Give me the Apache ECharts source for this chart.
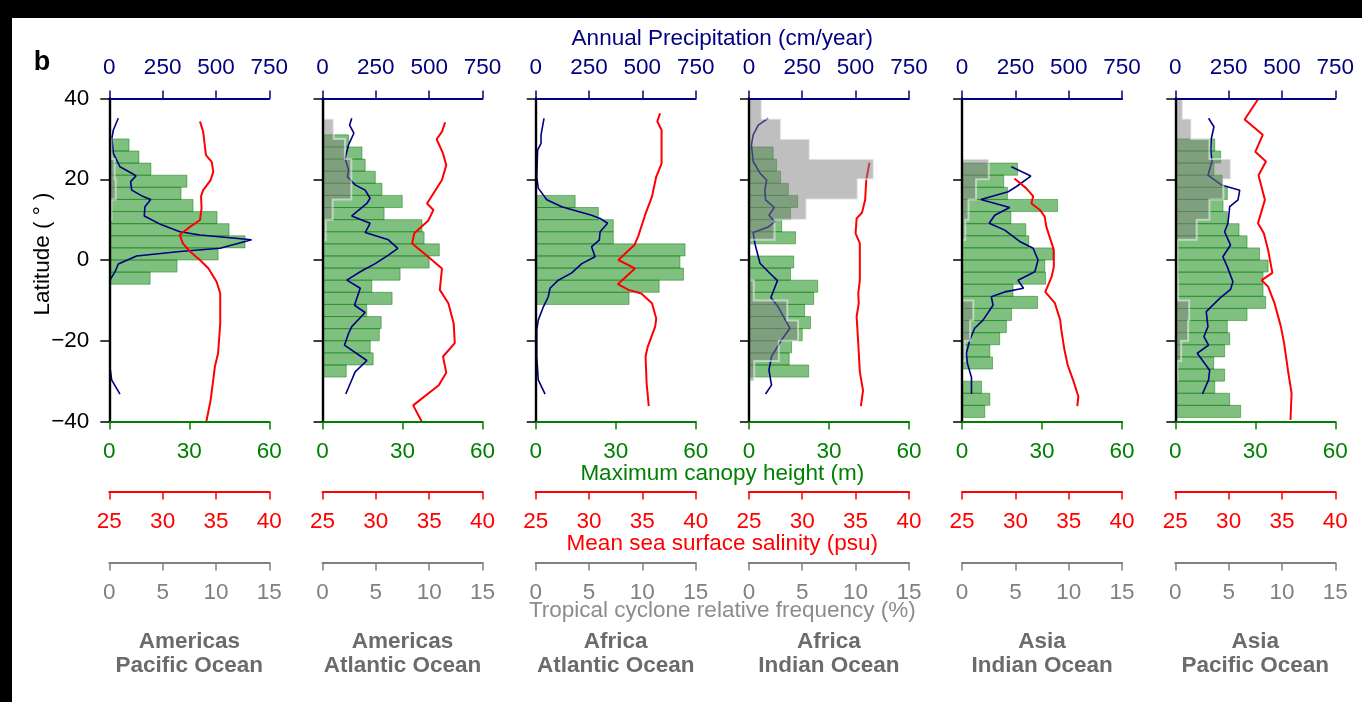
<!DOCTYPE html>
<html><head><meta charset="utf-8">
<script src="https://cdn.jsdelivr.net/npm/echarts@6/dist/echarts.min.js"></script>
<style>html,body{margin:0;padding:0;background:#fff}#c{width:1362px;height:702px}</style>
</head><body><div id="c"></div><script>
const FONT = "'Liberation Sans', Arial, sans-serif";
const FS = 22.5;

// ---- labels ----
const regionNames = [
  ['Americas', 'Pacific Ocean'], ['Americas', 'Atlantic Ocean'], ['Africa', 'Atlantic Ocean'],
  ['Africa', 'Indian Ocean'], ['Asia', 'Indian Ocean'], ['Asia', 'Pacific Ocean']
];
const yTicks = [-40, -20, 0, 20, 40];
const canopyBinWidth = 3;   // degrees
const cycloneBinWidth = 5;  // degrees

// ---- Maximum canopy height (m), 3° latitude bins (bin centres) ----
const canopyLat1 = [28.5, 25.5, 22.5, 19.5, 16.5, 13.5, 10.5, 7.5, 4.5, 1.5, -1.5, -4.5];
const canopy1 = [7.4, 11.1, 15.6, 29.1, 26.9, 31.4, 40.4, 44.9, 50.9, 40.8, 25.4, 15.3];
const canopyLat2 = [29.5, 26.5, 23.5, 20.5, 17.5, 14.5, 11.5, 8.5, 5.5, 2.5, -0.5, -3.5, -6.5, -9.5, -12.5, -15.5, -18.5, -21.5, -24.5, -27.5];
const canopy2 = [9.8, 14.8, 16, 19.8, 22.3, 29.9, 23.1, 37.3, 38.1, 43.8, 40, 29.1, 18.5, 26.1, 16.6, 22, 21.3, 17.9, 19, 8.9];
const canopyLat3 = [14.5, 11.5, 8.5, 5.5, 2.5, -0.5, -3.5, -6.5, -9.5];
const canopy3 = [14.8, 23.5, 29.1, 29.1, 56, 54.1, 55.4, 46.3, 35];
const canopyLat4 = [26.5, 23.5, 20.5, 17.5, 14.5, 11.5, 8.5, 5.5, 2.5, -0.5, -3.5, -6.5, -9.5, -12.5, -15.5, -18.5, -21.5, -24.5, -27.5];
const canopy4 = [9.1, 10.4, 11.9, 14.8, 18.3, 15.6, 12.3, 17.5, 0, 16.8, 15.6, 25.8, 24.3, 20.9, 23.1, 20, 16, 15.1, 22.4];
const canopyLat5 = [22.5, 19.5, 16.5, 13.5, 10.5, 7.5, 4.5, 1.5, -1.5, -4.5, -7.5, -10.5, -13.5, -16.5, -19.5, -22.5, -25.5, -28.5, -31.5, -34.5, -37.5];
const canopy5 = [20.8, 15.6, 17, 35.8, 18.3, 23.9, 25, 34.1, 31, 31.3, 19.1, 28.3, 18.5, 16.6, 14.1, 10.4, 11.4, 0, 7.3, 10.4, 8.5];
const canopyLat6 = [28.5, 25.5, 22.5, 19.5, 16.5, 13.5, 10.5, 7.5, 4.5, 1.5, -1.5, -4.5, -7.5, -10.5, -13.5, -16.5, -19.5, -22.5, -25.5, -28.5, -31.5, -34.5, -37.5];
const canopy6 = [14.8, 17, 14.5, 17.6, 19.5, 17.9, 19.5, 23.9, 26.9, 31.6, 34.8, 32.9, 32.9, 33.9, 26.9, 19.5, 20.4, 18.5, 14.4, 18.5, 14.8, 20.4, 24.5];

// ---- Tropical cyclone relative frequency (%), 5° latitude bins (bin centres) ----
const cycloneLat1 = [27.5, 22.5, 17.5, 12.5];
const cyclone1 = [0.2, 0.5, 0.6, 0.2];
const cycloneLat2 = [37.5, 32.5, 27.5, 22.5, 17.5, 12.5, 7.5];
const cyclone2 = [0.2, 1.05, 2.1, 2.7, 2.7, 0.95, 0.3];
const cycloneLat3 = [];
const cyclone3 = [];
const cycloneLat4 = [37.5, 32.5, 27.5, 22.5, 17.5, 12.5, 7.5, 2.5, -2.5, -7.5, -12.5, -17.5, -22.5, -27.5];
const cyclone4 = [1.2, 3.0, 5.7, 11.7, 10.2, 5.4, 2.4, 0, 0, 0.45, 3.6, 4.6, 2.8, 0.5];
const cycloneLat5 = [22.5, 17.5, 12.5, 7.5, 2.5, -2.5, -7.5, -12.5, -17.5, -22.5];
const cyclone5 = [2.5, 1.3, 0.6, 0.3, 0, 0, 0, 1.05, 0.75, 0.25];
const cycloneLat6 = [37.5, 32.5, 27.5, 22.5, 17.5, 12.5, 7.5, 2.5, -2.5, -7.5, -12.5, -17.5, -22.5, -27.5];
const cyclone6 = [0.7, 1.5, 3.2, 5.2, 4.5, 3.2, 2.0, 0.2, 0.2, 0.25, 1.3, 1.2, 0.55, 0.2];

// ---- Annual precipitation (cm/year) : [value, latitude]; null = gap ----
const precip1 = [[42,35.1],[19,32.2],[12,30.1],[19,26.4],[50,23.1],[105,21.5],[125,20.8],[100,19.4],[105,17.3],[159,15.7],[194,15.0],[167,13.2],[164,10.9],[245,8.7],[331,7.0],[425,6.2],[667,5.0],[519,2.9],[331,2.1],[128,1.0],[42,-1.0],[27,-2.9],[3,-5.0],null,[3,-26.4],[11,-29.7],[50,-33.2]];
const precip2 = [[137,35.1],[127,33.4],[147,31.4],[122,28.5],[106,25.2],[122,22.3],[117,20.6],[153,18.6],[200,17.3],[223,15.3],[208,14.0],[137,10.9],[223,9.1],[200,6.8],[309,5.0],[353,2.9],[309,1.2],[247,-0.9],[177,-2.9],[114,-5.0],[177,-7.0],[166,-8.7],[150,-11.2],[200,-13.0],[137,-16.5],[122,-18.2],[103,-21.1],[208,-24.9],[153,-27.7],[134,-30.1],[109,-33.2]];
const precip3 = [[39,35.1],[25,31.0],[25,28.9],[9,27.2],[5,20.6],[12,17.8],[52,14.9],[122,13.2],[200,12.0],[262,11.1],[302,10.3],[337,9.1],[302,7.0],[298,4.9],[262,3.3],[278,0.8],[216,-0.9],[169,-3.2],[106,-5.0],[67,-7.0],[59,-9.1],[36,-11.6],[12,-14.9],[5,-17.3],[5,-23.9],[12,-29.7],[44,-33.2]];
const precip4 = [[91,35.1],[44,33.4],[20,31.0],[12,28.5],[20,24.4],[52,21.5],[83,19.8],[75,17.3],[78,14.9],[119,13.0],[94,11.1],[122,9.5],[91,8.2],[20,6.8],[28,4.1],[52,-0.8],[91,-2.9],[134,-5.1],[103,-9.3],[137,-11.6],[192,-16.9],[153,-19.8],[106,-23.9],[94,-27.3],[106,-31.0],[78,-33.2]];
const precip5 = [[231,23.1],[322,20.8],[255,18.2],[216,16.9],[88,15.0],[223,13.0],[153,11.1],[127,9.1],[200,7.4],[270,4.6],[333,2.9],[356,0.0],[341,-2.9],[262,-5.0],[288,-7.0],[200,-7.9],[137,-9.1],[145,-11.2],[98,-14.9],[59,-16.9],[36,-19.8],[20,-23.1],[25,-25.6],[44,-29.1],[44,-33.2]];
const precip6 = [[156,35.1],[181,33.0],[169,30.1],[166,27.2],[172,24.4],[153,21.0],[216,18.6],[302,17.3],[294,14.9],[255,13.2],[247,9.1],[231,7.0],[259,3.7],[223,0.8],[244,-1.7],[270,-5.4],[259,-7.3],[208,-9.5],[145,-12.8],[153,-16.5],[134,-19.0],[156,-21.1],[103,-23.1],[161,-27.3],[156,-29.7],[127,-33.2]];

// ---- Mean sea surface salinity (psu) : [value, latitude] ----
const salinity1 = [[33.5,34.3],[33.8,31.8],[34.06,26.0],[34.6,24.3],[34.75,21.9],[34.5,19.8],[33.8,17.3],[33.6,15.8],[33.65,12.8],[33.5,9.9],[32.56,8.2],[31.6,6.2],[31.9,4.1],[32.56,2.1],[33.5,0],[34.3,-2.1],[35.06,-5.4],[35.4,-8.3],[35.4,-15.7],[35.2,-23.1],[34.9,-26.4],[34.5,-34.7],[34.1,-40.0]];
const salinity2 = [[36.5,34.1],[36.2,31.8],[35.7,29.9],[36.3,26.4],[36.6,23.5],[36.2,19.8],[34.8,14.0],[35.4,12.4],[34.9,9.7],[33.6,6.6],[33.4,4.1],[34.9,0.8],[36.2,-2.1],[36.0,-7.4],[36.8,-10.7],[37.3,-15.7],[37.4,-20.6],[36.3,-23.9],[36.6,-27.9],[35.9,-31.0],[33.5,-36.0],[34.3,-40.0]];
const salinity3 = [[36.66,36.3],[36.4,34.3],[36.8,32.2],[36.8,23.9],[36.3,20.6],[35.9,15.7],[35.25,11.1],[34.6,5.8],[34.25,3.7],[32.75,0.0],[34.3,-2.1],[32.7,-6.0],[33.7,-7.4],[34.9,-8.3],[35.9,-10.7],[36.3,-14.5],[36.2,-16.5],[35.5,-21.5],[35.3,-23.9],[35.4,-30.6],[35.6,-36.2]];
const salinity4 = [[36.3,24.1],[36.0,19.8],[35.9,14.9],[35.6,11.7],[35.1,10.3],[35.0,6.6],[35.4,4.1],[35.4,-5.0],[35.25,-8.3],[35.3,-10.7],[35.1,-14.0],[35.25,-20.6],[35.4,-27.7],[35.7,-32.3],[35.5,-36.2]];
const salinity5 = [[29.9,20.2],[31.0,17.8],[31.66,15.8],[31.5,14.0],[32.3,12.4],[32.75,10.7],[32.9,8.2],[33.6,2.5],[33.6,-1.7],[33.4,-4.1],[32.8,-7.9],[33.7,-10.7],[34.2,-14.9],[34.3,-17.3],[34.6,-22.3],[34.9,-26.0],[35.4,-29.7],[35.9,-33.8],[35.8,-36.2]];
const salinity6 = [[32.8,40],[31.5,34.8],[33.2,31.0],[32.5,26.8],[33.5,24.4],[32.8,21.0],[33.4,14.9],[32.75,9.1],[33.3,6.6],[33.7,2.5],[34.1,-3.2],[33.1,-5.0],[33.7,-6.6],[34.3,-10.7],[34.9,-16.5],[35.2,-20.6],[35.56,-27.3],[35.9,-33.0],[35.8,-39.6]];

const panels = [
  {name: regionNames[0], cLat: canopyLat1, cVal: canopy1, gLat: cycloneLat1, gVal: cyclone1, precip: precip1, sal: salinity1},
  {name: regionNames[1], cLat: canopyLat2, cVal: canopy2, gLat: cycloneLat2, gVal: cyclone2, precip: precip2, sal: salinity2},
  {name: regionNames[2], cLat: canopyLat3, cVal: canopy3, gLat: cycloneLat3, gVal: cyclone3, precip: precip3, sal: salinity3},
  {name: regionNames[3], cLat: canopyLat4, cVal: canopy4, gLat: cycloneLat4, gVal: cyclone4, precip: precip4, sal: salinity4},
  {name: regionNames[4], cLat: canopyLat5, cVal: canopy5, gLat: cycloneLat5, gVal: cyclone5, precip: precip5, sal: salinity5},
  {name: regionNames[5], cLat: canopyLat6, cVal: canopy6, gLat: cycloneLat6, gVal: cyclone6, precip: precip6, sal: salinity6}
];

// ---- layout ----
const GRID_LEFT = 109.3, GRID_STEP = 213.2, GRID_W = 160, GRID_TOP = 98.5, GRID_H = 323;
const GREEN = '#008000', NAVY = '#000080', RED = '#ff0000', GRAY = '#808080';

function axisX(g, pos, offset, min, max, interval, color, margin) {
  return {
    gridIndex: g, type: 'value', position: pos, offset: offset, min: min, max: max, interval: interval, z: 10,
    axisLine: {show: true, onZero: false, lineStyle: {color: color, width: 2}},
    axisTick: {show: true, inside: false, length: 8, lineStyle: {color: color, width: 1.5}},
    axisLabel: {show: true, color: color, fontSize: FS, fontFamily: FONT, margin: margin, showMinLabel: true, showMaxLabel: true},
    splitLine: {show: false}
  };
}

function barItem(params, api) {
  const v = api.value(0), lat = api.value(1);
  const a = api.coord([0, lat + canopyBinWidth / 2]);
  const b = api.coord([v, lat - canopyBinWidth / 2]);
  return {type: 'rect', shape: {x: a[0], y: a[1], width: b[0] - a[0], height: b[1] - a[1]},
    style: {fill: 'rgba(0,128,0,0.5)', stroke: 'rgba(0,120,0,0.45)', lineWidth: 1}};
}

function grayPolygon(lats, vals) {
  return function (params, api) {
    if (!lats.length) return null;
    const h = cycloneBinWidth / 2;
    const pts = [api.coord([0, lats[0] + h])];
    for (let k = 0; k < lats.length; k++) {
      pts.push(api.coord([vals[k], lats[k] + h]));
      pts.push(api.coord([vals[k], lats[k] - h]));
    }
    pts.push(api.coord([0, lats[lats.length - 1] - h]));
    return {type: 'polygon', shape: {points: pts},
      style: {fill: 'rgba(128,128,128,0.5)', stroke: 'rgba(255,255,255,0.5)', lineWidth: 2}};
  };
}

const grids = [], xAxes = [], yAxes = [], series = [], graphics = [];
panels.forEach(function (p, i) {
  const left = GRID_LEFT + GRID_STEP * i;
  grids.push({left: left, top: GRID_TOP, width: GRID_W, height: GRID_H});
  yAxes.push({
    gridIndex: i, type: 'value', min: yTicks[0], max: yTicks[yTicks.length - 1], interval: 20, z: 10,
    axisLine: {show: true, onZero: false, lineStyle: {color: '#000', width: 2.4}},
    axisTick: {show: true, inside: false, length: 9, lineStyle: {color: '#000', width: 1.5}},
    axisLabel: {show: i === 0, color: '#000', fontSize: FS, fontFamily: FONT, margin: 20,
      formatter: function (v) { return v < 0 ? '\u2212' + Math.abs(v) : String(v); }},
    splitLine: {show: false}
  });
  const xi = xAxes.length;
  xAxes.push(axisX(i, 'bottom', 0, 0, 60, 30, GREEN, 18.5));
  xAxes.push(axisX(i, 'top', 0, 0, 750, 250, NAVY, 19));
  xAxes.push(axisX(i, 'bottom', 70, 25, 40, 5, RED, 18.5));
  xAxes.push(axisX(i, 'bottom', 141, 0, 15, 5, GRAY, 18.5));

  series.push({type: 'custom', xAxisIndex: xi, yAxisIndex: i, z: 1, clip: true,
    data: p.cVal.map(function (v, k) { return [v, p.cLat[k]]; }),
    encode: {x: 0, y: 1}, renderItem: barItem});
  series.push({type: 'line', xAxisIndex: xi + 1, yAxisIndex: i, z: 3, showSymbol: false, symbol: 'none',
    connectNulls: false, animation: false,
    data: p.precip.map(function (d) { return d ? d : ['-', '-']; }),
    lineStyle: {color: NAVY, width: 1.6}});
  series.push({type: 'line', xAxisIndex: xi + 2, yAxisIndex: i, z: 3, showSymbol: false, symbol: 'none',
    animation: false, data: p.sal, lineStyle: {color: RED, width: 2}});
  series.push({type: 'custom', xAxisIndex: xi + 3, yAxisIndex: i, z: 5, clip: false,
    data: [[0, 0]], encode: {x: 0, y: 1}, renderItem: grayPolygon(p.gLat, p.gVal)});

  const cx = left + GRID_W / 2;
  graphics.push({type: 'text', x: cx, y: 642, style: {text: p.name[0], textAlign: 'center', textVerticalAlign: 'middle',
    fill: '#6b6b6b', font: 'bold ' + FS + 'px ' + FONT}});
  graphics.push({type: 'text', x: cx, y: 666, style: {text: p.name[1], textAlign: 'center', textVerticalAlign: 'middle',
    fill: '#6b6b6b', font: 'bold ' + FS + 'px ' + FONT}});
});

const midX = GRID_LEFT + (GRID_STEP * 5 + GRID_W) / 2;
graphics.push({type: 'rect', shape: {x: 0, y: 0, width: 1362, height: 18}, style: {fill: '#000'}});
graphics.push({type: 'rect', shape: {x: 0, y: 0, width: 12, height: 702}, style: {fill: '#000'}});
graphics.push({type: 'text', x: 42, y: 63, style: {text: 'b', textAlign: 'center', textVerticalAlign: 'middle', fill: '#000', font: 'bold 27px ' + FONT}});
graphics.push({type: 'text', x: 43, y: 254, rotation: Math.PI / 2, style: {text: 'Latitude ( \u00b0 )', textAlign: 'center', textVerticalAlign: 'middle', fill: '#000', font: FS + 'px ' + FONT}});
graphics.push({type: 'text', x: midX, y: 39, style: {text: 'Annual Precipitation (cm/year)', textAlign: 'center', textVerticalAlign: 'middle', fill: NAVY, font: FS + 'px ' + FONT}});
graphics.push({type: 'text', x: midX, y: 474, style: {text: 'Maximum canopy height (m)', textAlign: 'center', textVerticalAlign: 'middle', fill: GREEN, font: FS + 'px ' + FONT}});
graphics.push({type: 'text', x: midX, y: 544, style: {text: 'Mean sea surface salinity (psu)', textAlign: 'center', textVerticalAlign: 'middle', fill: RED, font: FS + 'px ' + FONT}});
graphics.push({type: 'text', x: midX, y: 611, style: {text: 'Tropical cyclone relative frequency (%)', textAlign: 'center', textVerticalAlign: 'middle', fill: '#8c8c8c', font: FS + 'px ' + FONT}});

const chart = echarts.init(document.getElementById('c'), null, {renderer: 'canvas'});
chart.setOption({
  animation: false,
  backgroundColor: '#fff',
  textStyle: {fontFamily: FONT},
  grid: grids, xAxis: xAxes, yAxis: yAxes, series: series, graphic: graphics
});
</script></body></html>
